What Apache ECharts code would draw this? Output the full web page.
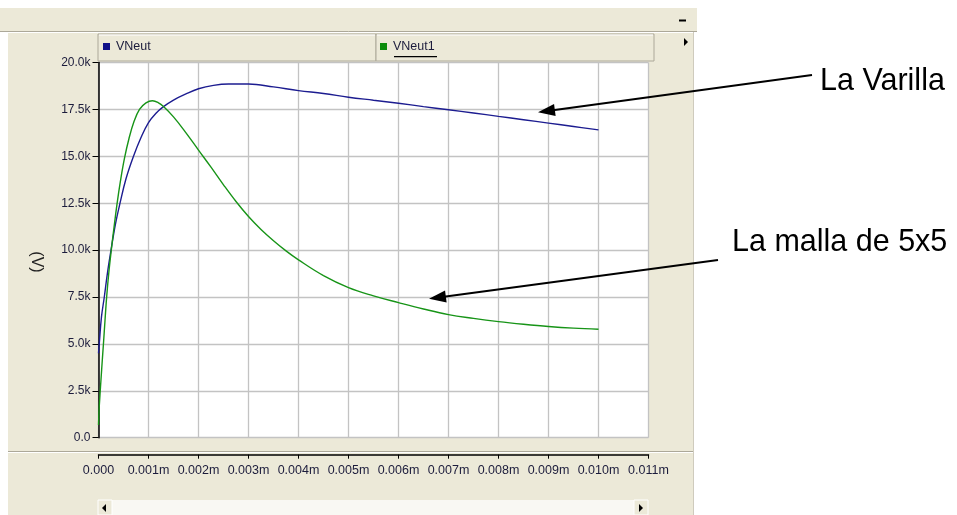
<!DOCTYPE html>
<html>
<head>
<meta charset="utf-8">
<script src="https://cdn.jsdelivr.net/npm/echarts@6/dist/echarts.min.js"></script>
<style>
  html, body { margin: 0; padding: 0; background: #ffffff; }
  #chart { width: 957px; height: 515px; }
</style>
</head>
<body>
<div id="chart"></div>
<script>
// Axis tick labels
const xTickLabels = ['0.000', '0.001m', '0.002m', '0.003m', '0.004m', '0.005m',
  '0.006m', '0.007m', '0.008m', '0.009m', '0.010m', '0.011m'];
const yTickLabels = ['0.0', '2.5k', '5.0k', '7.5k', '10.0k', '12.5k', '15.0k', '17.5k', '20.0k'];

// Series names
const seriesNames = ['VNeut', 'VNeut1'];

// VNeut (rod electrode): time in s, voltage in V
const timeVNeut = [0, 0.000015, 0.00006, 0.000116, 0.00018, 0.00025, 0.00034, 0.00043,
  0.00055, 0.0007, 0.00085, 0.001, 0.00115, 0.0013, 0.0015, 0.00175, 0.002, 0.0023,
  0.0026, 0.003, 0.0035, 0.004, 0.0045, 0.005, 0.0055, 0.006, 0.0065, 0.007, 0.0075,
  0.008, 0.0085, 0.009, 0.0095, 0.01];
const voltVNeut = [4500, 5000, 6450, 7500, 8800, 10000, 11400, 12500,
  13800, 15000, 16000, 16800, 17300, 17650, 18000, 18330, 18600, 18780,
  18850, 18850, 18700, 18500, 18350, 18150, 17990, 17830, 17650, 17480, 17310,
  17130, 16950, 16770, 16590, 16410];

// VNeut1 (5x5 grid): time in s, voltage in V
const timeVNeut1 = [0, 0.000012, 0.00003, 0.00005, 0.000075, 0.0001, 0.00013, 0.000163,
  0.00021, 0.00026, 0.00031, 0.00037, 0.00044, 0.00052, 0.00061, 0.00071, 0.00082,
  0.00095, 0.00108, 0.0012, 0.0013, 0.0015, 0.00175, 0.002, 0.00225, 0.0025, 0.00275,
  0.003, 0.00325, 0.0035, 0.00375, 0.004, 0.0045, 0.005, 0.0055, 0.006, 0.0065, 0.007,
  0.0075, 0.008, 0.0085, 0.009, 0.0095, 0.01];
const voltVNeut1 = [680, 1500, 2300, 3100, 4100, 5050, 6250, 7500,
  8900, 10100, 11200, 12450, 13700, 14900, 15950, 16850, 17500,
  17850, 17960, 17850, 17650, 17100, 16250, 15330, 14420, 13480, 12590,
  11790, 11100, 10500, 9960, 9480, 8640, 8000, 7560, 7200, 6860, 6560,
  6360, 6190, 6050, 5930, 5840, 5780];

const PANEL = '#ece9d8';
const SHADOW = '#aca899';
const TEXT = '#1c1c3c';
const FONT = "'Liberation Sans', Arial, sans-serif";

function zip(xs, ys) { return xs.map((x, i) => [x, ys[i]]); }

// Line with a filled arrow head at (x2, y2)
function arrow(x1, y1, x2, y2) {
  const dx = x2 - x1, dy = y2 - y1, len = Math.hypot(dx, dy);
  const ux = dx / len, uy = dy / len, nx = -uy, ny = ux;
  const headLen = 17, halfW = 6;
  const bx = x2 - ux * headLen, by = y2 - uy * headLen;
  return [
    { type: 'line', z: 100, shape: { x1: x1, y1: y1, x2: bx + ux * 2, y2: by + uy * 2 },
      style: { stroke: '#000', lineWidth: 2 } },
    { type: 'polygon', z: 100,
      shape: { points: [[x2, y2], [bx + nx * halfW, by + ny * halfW], [bx - nx * halfW, by - ny * halfW]] },
      style: { fill: '#000' } }
  ];
}

function tri(points) {
  return { type: 'polygon', z: 5, shape: { points: points }, style: { fill: '#000' } };
}

const chart = echarts.init(document.getElementById('chart'), null, { renderer: 'canvas' });

const graphics = [
  // window chrome
  { type: 'rect', z: -20, shape: { x: 0, y: 8, width: 697, height: 24 }, style: { fill: PANEL } },
  { type: 'rect', z: -20, shape: { x: 8, y: 32, width: 685, height: 483 }, style: { fill: PANEL } },
  { type: 'line', z: -10, shape: { x1: 0, y1: 31.5, x2: 697, y2: 31.5 }, style: { stroke: SHADOW, lineWidth: 1 } },
  { type: 'line', z: -10, shape: { x1: 0, y1: 32.5, x2: 697, y2: 32.5 }, style: { stroke: '#ffffff', lineWidth: 1 } },
  { type: 'rect', z: -10, shape: { x: 679, y: 19.5, width: 7, height: 2 }, style: { fill: '#000' } },
  { type: 'line', z: -10, shape: { x1: 693.5, y1: 32, x2: 693.5, y2: 515 }, style: { stroke: '#cfcbbd', lineWidth: 1 } },
  tri([[684, 38], [684, 46], [688, 42]]),
  // legend header cells
  { type: 'rect', z: -10, shape: { x: 98, y: 34, width: 278, height: 27 }, style: { fill: PANEL, stroke: SHADOW, lineWidth: 1 } },
  { type: 'rect', z: -10, shape: { x: 376, y: 34, width: 278, height: 27 }, style: { fill: PANEL, stroke: SHADOW, lineWidth: 1 } },
  { type: 'line', z: -9, shape: { x1: 99, y1: 35, x2: 375, y2: 35 }, style: { stroke: '#ffffff', lineWidth: 1 } },
  { type: 'line', z: -9, shape: { x1: 377, y1: 35, x2: 653, y2: 35 }, style: { stroke: '#ffffff', lineWidth: 1 } },
  { type: 'rect', z: 10, shape: { x: 394, y: 56, width: 43, height: 1.3 }, style: { fill: '#000' } },
  // groove above the time ruler
  { type: 'line', z: -10, shape: { x1: 8, y1: 451.5, x2: 693, y2: 451.5 }, style: { stroke: SHADOW, lineWidth: 1 } },
  { type: 'line', z: -10, shape: { x1: 8, y1: 452.5, x2: 693, y2: 452.5 }, style: { stroke: '#ffffff', lineWidth: 1 } },
  // horizontal scrollbar
  { type: 'rect', z: -10, shape: { x: 98, y: 500, width: 550, height: 15 }, style: { fill: '#f9f8f3' } },
  { type: 'rect', z: -9, shape: { x: 98, y: 500, width: 14, height: 15 }, style: { fill: PANEL, stroke: '#ffffff', lineWidth: 1 } },
  { type: 'rect', z: -9, shape: { x: 634, y: 500, width: 14, height: 15 }, style: { fill: PANEL, stroke: '#ffffff', lineWidth: 1 } },
  tri([[106, 504], [106, 512], [102, 508]]),
  tri([[639, 504], [639, 512], [643, 508]]),
  // y-axis unit, reading top to bottom
  { type: 'text', z: 10, x: 36, y: 262, rotation: -Math.PI / 2,
    style: { text: '(V)', font: "16px " + FONT, fill: '#222', align: 'center', verticalAlign: 'middle' } },
  // annotations
  { type: 'text', z: 100, x: 820, y: 82,
    style: { text: 'La Varilla', font: "30.5px " + FONT, fill: '#000', align: 'left', verticalAlign: 'middle' } },
  { type: 'text', z: 100, x: 732, y: 243,
    style: { text: 'La malla de 5x5', font: "30.5px " + FONT, fill: '#000', align: 'left', verticalAlign: 'middle' } }
].concat(arrow(812, 75, 538, 112.3), arrow(718, 260, 429, 298.7));

const legendBase = {
  icon: 'rect', itemWidth: 7, itemHeight: 7, selectedMode: false, top: 35,
  textStyle: { fontSize: 12.5, fontFamily: FONT, color: TEXT, padding: [0, 0, 0, 1] }
};

chart.setOption({
  backgroundColor: '#ffffff',
  animation: false,
  legend: [
    Object.assign({}, legendBase, { data: [seriesNames[0]], left: 98 }),
    Object.assign({}, legendBase, { data: [seriesNames[1]], left: 375 })
  ],
  grid: {
    left: 98.5, right: 308.5, top: 62.5, bottom: 77.3,
    show: true, backgroundColor: '#ffffff', borderWidth: 0
  },
  xAxis: {
    type: 'value', min: 0, max: 0.011, interval: 0.001, offset: 17,
    axisLine: { show: true, onZero: false, lineStyle: { color: '#000', width: 1.5 } },
    axisTick: { show: true, length: 4, lineStyle: { color: '#000', width: 1 } },
    axisLabel: { margin: 9, fontSize: 12.5, fontFamily: FONT, color: TEXT,
      formatter: (v, i) => xTickLabels[i] },
    splitLine: { show: true, lineStyle: { color: '#c3c3c3', width: 1.3 } }
  },
  yAxis: {
    type: 'value', min: 0, max: 20000, interval: 2500,
    axisLine: { show: true, lineStyle: { color: '#000', width: 1.5 } },
    axisTick: { show: true, length: 6, lineStyle: { color: '#000', width: 1 } },
    axisLabel: { margin: 8, fontSize: 12, fontFamily: FONT, color: TEXT,
      formatter: (v, i) => yTickLabels[i] },
    splitLine: { show: true, lineStyle: { color: '#c3c3c3', width: 1.3 } }
  },
  series: [
    { name: seriesNames[0], type: 'line', data: zip(timeVNeut, voltVNeut),
      showSymbol: false, smooth: 0.4,
      itemStyle: { color: '#101088' }, lineStyle: { color: '#1c1c90', width: 1.4 } },
    { name: seriesNames[1], type: 'line', data: zip(timeVNeut1, voltVNeut1),
      showSymbol: false, smooth: 0.4,
      itemStyle: { color: '#0c8c0c' }, lineStyle: { color: '#179417', width: 1.4 } }
  ],
  graphic: graphics
});
</script>
</body>
</html>
